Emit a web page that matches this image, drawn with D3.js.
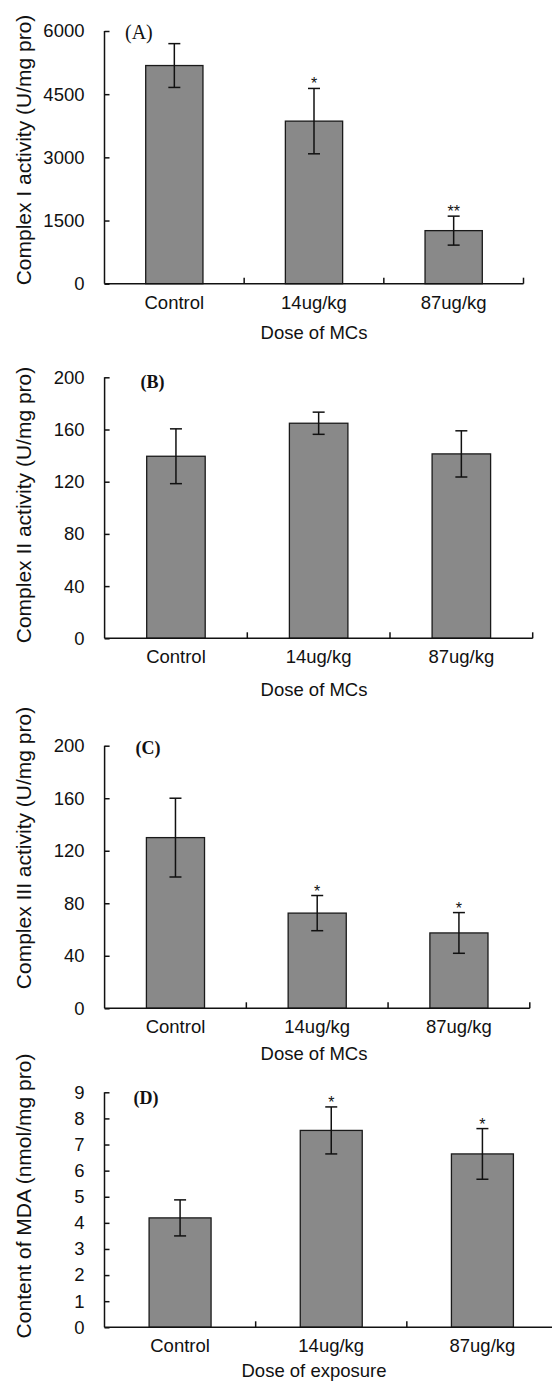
<!DOCTYPE html>
<html>
<head>
<meta charset="utf-8">
<script src="https://cdn.jsdelivr.net/npm/d3@7"></script>
<style>
    body { margin: 0; background: #fff; }
    svg text { font-family: "Liberation Sans", Arial, sans-serif; fill: #111; }
    .bar { fill: #898989; stroke: #1a1a1a; stroke-width: 1.3; }
    .err { stroke: #111; stroke-width: 1.5; fill: none; }
    .axis-line { stroke: #111; stroke-width: 1.5; fill: none; }
    .panel-tag { font-family: "Liberation Serif", "Times New Roman", serif; }
</style>
</head>
<body>
<div id="chart"></div>
<script>

// Categories shared by all four panels
const categories = ["Control", "14ug/kg", "87ug/kg"];

// (A) Complex I activity
const complexI      = [5180, 3860, 1260];
const complexIErr   = [520, 776, 344];
const complexIStars = ["", "*", "**"];
const complexITicks = [0, 1500, 3000, 4500, 6000];

// (B) Complex II activity
const complexII      = [139.5, 164.8, 141.3];
const complexIIErr   = [21, 8.5, 17.7];
const complexIIStars = ["", "", ""];
const complexIITicks = [0, 40, 80, 120, 160, 200];

// (C) Complex III activity
const complexIII      = [130, 72.5, 57.4];
const complexIIIErr   = [30, 13.4, 15.5];
const complexIIIStars = ["", "*", "*"];
const complexIIITicks = [0, 40, 80, 120, 160, 200];

// (D) MDA content
const mda      = [4.19, 7.54, 6.64];
const mdaErr   = [0.69, 0.9, 0.97];
const mdaStars = ["", "*", "*"];
const mdaTicks = [0, 1, 2, 3, 4, 5, 6, 7, 8, 9];

const svg = d3.select("#chart").append("svg")
    .attr("width", 552)
    .attr("height", 1381);

function drawPanel(p) {
    let g = svg.append("g");

    // Scales
    let x = d3.scaleBand()
        .domain(categories)
        .range([p.left, p.right])
        .paddingInner(0.59)
        .paddingOuter(0.295);
    let step = x.step();
    let y = d3.scaleLinear()
        .domain([0, p.ticks[p.ticks.length - 1]])
        .range([p.bottom, p.top]);

    // Bars
    g.selectAll("rect.bar")
        .data(p.values)
        .enter()
        .append("rect")
            .attr("class", "bar")
            .attr("x", (d, i) => x(categories[i]))
            .attr("y", d => y(d))
            .attr("width", x.bandwidth())
            .attr("height", d => y(0) - y(d));

    // Error bars (upper and lower)
    let cx = i => x(categories[i]) + x.bandwidth() / 2;
    let errs = g.selectAll("g.errbar")
        .data(p.values)
        .enter()
        .append("g")
            .attr("class", "errbar");
    errs.append("line")
        .attr("class", "err")
        .attr("x1", (d, i) => cx(i)).attr("x2", (d, i) => cx(i))
        .attr("y1", (d, i) => y(d - p.errors[i]))
        .attr("y2", (d, i) => y(d + p.errors[i]));
    errs.append("line")
        .attr("class", "err")
        .attr("x1", (d, i) => cx(i) - 6).attr("x2", (d, i) => cx(i) + 6)
        .attr("y1", (d, i) => y(d + p.errors[i]))
        .attr("y2", (d, i) => y(d + p.errors[i]));
    errs.append("line")
        .attr("class", "err")
        .attr("x1", (d, i) => cx(i) - 6).attr("x2", (d, i) => cx(i) + 6)
        .attr("y1", (d, i) => y(d - p.errors[i]))
        .attr("y2", (d, i) => y(d - p.errors[i]));

    // Significance stars
    g.selectAll("text.star")
        .data(p.stars)
        .enter()
        .append("text")
            .attr("class", "star")
            .attr("text-anchor", "middle")
            .attr("font-size", 16)
            .attr("x", (d, i) => cx(i))
            .attr("y", (d, i) => y(p.values[i] + p.errors[i]) + 1)
            .text(d => d);

    // Y axis with inward ticks
    let yAxis = d3.axisRight(y)
        .tickValues(p.ticks)
        .tickSize(5)
        .tickFormat(d => d);
    let yg = g.append("g")
        .attr("transform", "translate(" + p.left + ",0)")
        .call(yAxis);
    yg.select(".domain").remove();
    yg.selectAll(".tick line").attr("stroke", "#111").attr("stroke-width", 1.5);
    yg.selectAll(".tick text")
        .attr("x", -20)
        .attr("text-anchor", "end")
        .attr("font-size", 18.5)
        .attr("font-family", "Liberation Sans, Arial, sans-serif")
        .attr("fill", "#111");
    g.append("line")
        .attr("class", "axis-line")
        .attr("x1", p.left).attr("x2", p.left)
        .attr("y1", y(0)).attr("y2", p.top);

    // X axis: baseline plus small upward ticks between categories
    g.append("line")
        .attr("class", "axis-line")
        .attr("x1", p.left).attr("x2", p.right)
        .attr("y1", y(0)).attr("y2", y(0));
    let boundaries = categories.map((c, i) => p.left + step * (i + 1));
    g.selectAll("line.xtick")
        .data(boundaries)
        .enter()
        .append("line")
            .attr("class", "axis-line")
            .attr("x1", d => d).attr("x2", d => d)
            .attr("y1", y(0)).attr("y2", y(0) - 6);

    // Category labels
    g.selectAll("text.cat")
        .data(categories)
        .enter()
        .append("text")
            .attr("class", "cat")
            .attr("text-anchor", "middle")
            .attr("font-size", 18.5)
            .attr("x", d => x(d) + x.bandwidth() / 2)
            .attr("y", y(0) + 25)
            .text(d => d);

    // X axis title
    g.append("text")
        .attr("text-anchor", "middle")
        .attr("font-size", 18.5)
        .attr("x", 314)
        .attr("y", y(0) + p.titleGap)
        .text(p.xTitle);

    // Y axis title (rotated)
    g.append("text")
        .attr("text-anchor", "middle")
        .attr("font-size", 21)
        .attr("transform", "translate(31," + p.yTitleCenter + ") rotate(-90)")
        .text(p.yTitle);

    // Panel tag, e.g. (A)
    g.append("text")
        .attr("class", "panel-tag")
        .attr("font-size", p.tagSize)
        .attr("font-weight", p.tagWeight)
        .attr("x", p.tagX)
        .attr("y", p.top + p.tagDy)
        .text(p.tag);
}

drawPanel({
    values: complexI, errors: complexIErr, stars: complexIStars, ticks: complexITicks,
    left: 104.5, right: 523.5, top: 31, bottom: 283.7,
    xTitle: "Dose of MCs", titleGap: 55,
    yTitle: "Complex I activity (U/mg pro)", yTitleCenter: 150,
    tag: "(A)", tagX: 125, tagDy: 8, tagSize: 20, tagWeight: "normal"
});

drawPanel({
    values: complexII, errors: complexIIErr, stars: complexIIStars, ticks: complexIITicks,
    left: 104.6, right: 532.7, top: 377.3, bottom: 638.3,
    xTitle: "Dose of MCs", titleGap: 58,
    yTitle: "Complex II activity (U/mg pro)", yTitleCenter: 505,
    tag: "(B)", tagX: 140.5, tagDy: 11, tagSize: 18, tagWeight: "bold"
});

drawPanel({
    values: complexIII, errors: complexIIIErr, stars: complexIIIStars, ticks: complexIIITicks,
    left: 104.6, right: 529.8, top: 745.7, bottom: 1008.3,
    xTitle: "Dose of MCs", titleGap: 52,
    yTitle: "Complex III activity (U/mg pro)", yTitleCenter: 848,
    tag: "(C)", tagX: 135.5, tagDy: 8, tagSize: 18, tagWeight: "bold"
});

drawPanel({
    values: mda, errors: mdaErr, stars: mdaStars, ticks: mdaTicks,
    left: 104.5, right: 558, top: 1092.3, bottom: 1327.3,
    xTitle: "Dose of exposure", titleGap: 50,
    yTitle: "Content of MDA (nmol/mg pro)", yTitleCenter: 1196,
    tag: "(D)", tagX: 133.5, tagDy: 12, tagSize: 18, tagWeight: "bold"
});

</script>
</body>
</html>
